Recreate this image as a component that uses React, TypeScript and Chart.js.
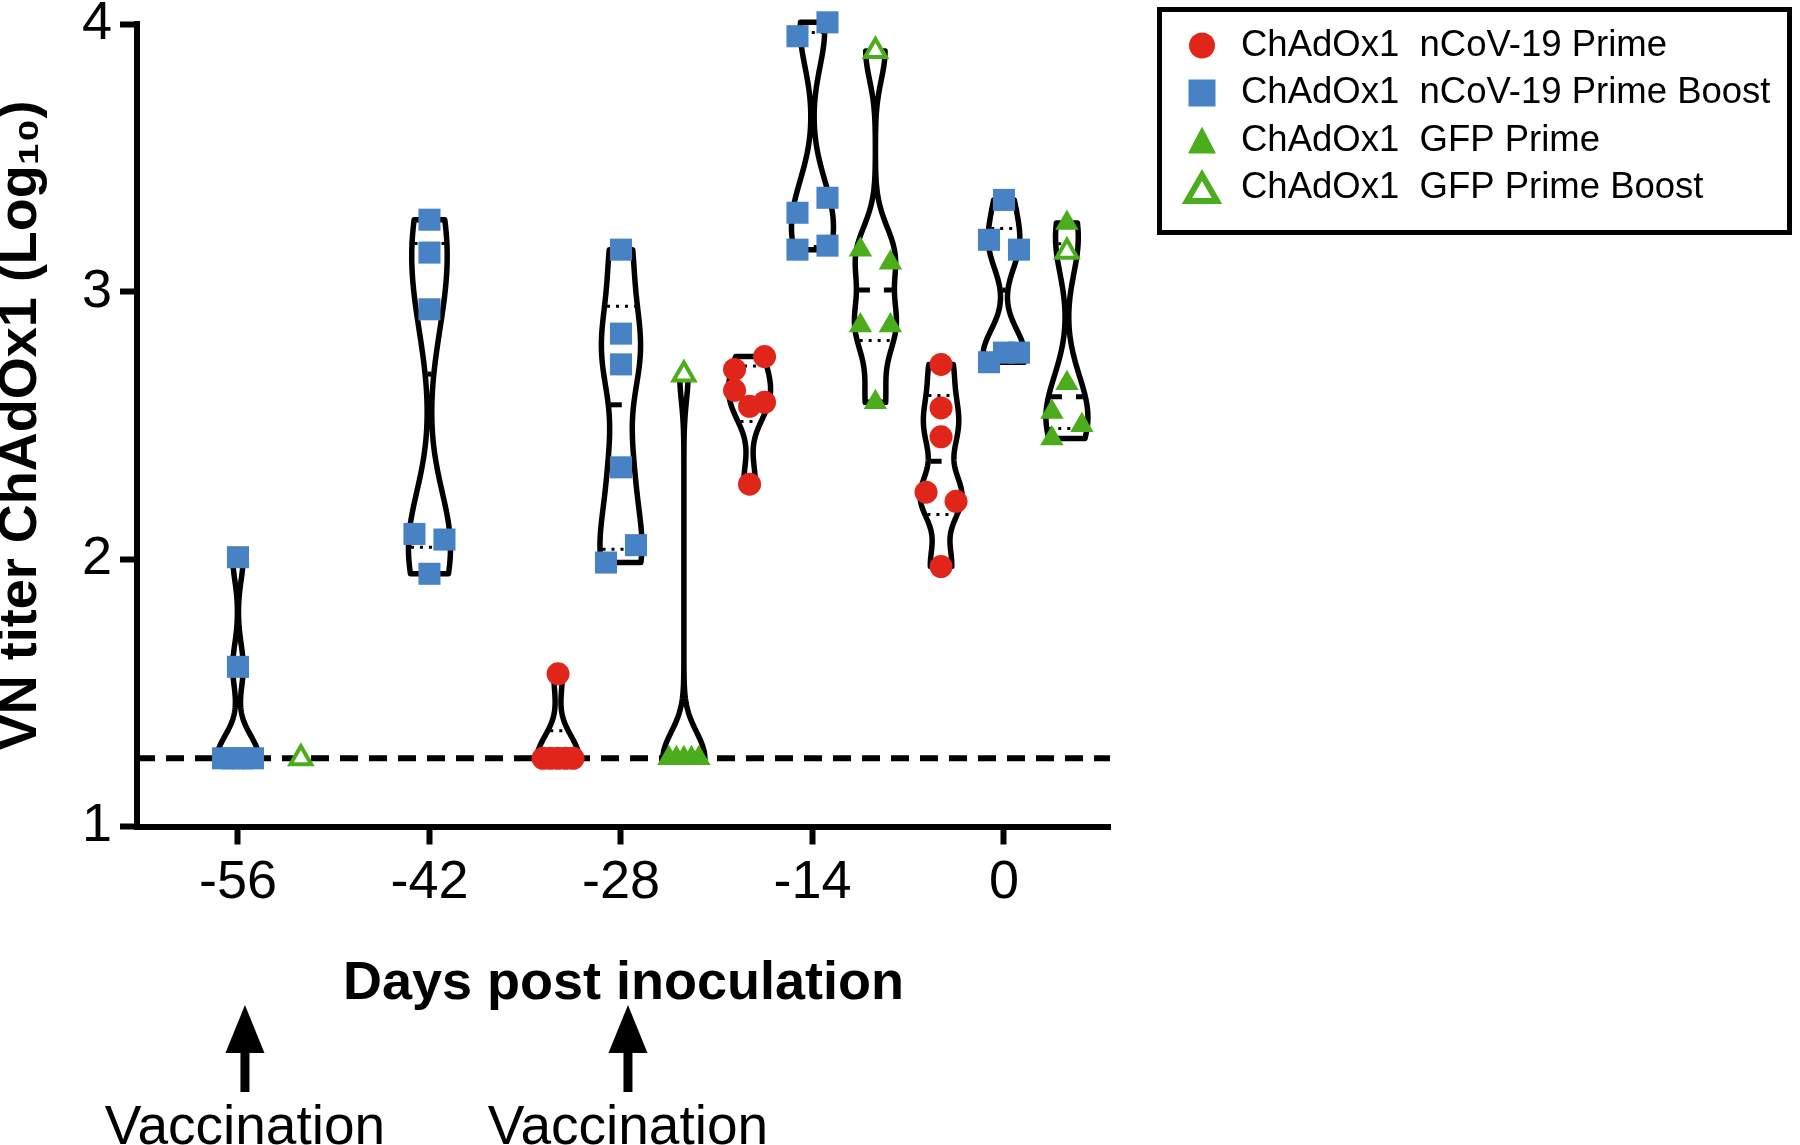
import React, { useEffect, useRef } from 'react';
import { Chart, registerables } from 'chart.js';

Chart.register(...registerables);

// ---------------- data (log10 VN titres) ----------------
const tickDays = [-56, -42, -28, -14, 0];
const vaccinationDays = [-56, -28];
const lodLog = 1.255;

const nCoVPrimeDays = [-28, -14, 0];
const nCoVPrime = [
  [1.255, 1.255, 1.255, 1.255, 1.255, 1.571],
  [2.631, 2.571, 2.586, 2.709, 2.757, 2.28],
  [2.728, 2.565, 2.457, 2.25, 2.216, 1.972],
];

const nCoVPrimeBoostDays = [-56, -42, -28, -14, 0];
const nCoVPrimeBoost = [
  [2.007, 1.597, 1.255, 1.255, 1.255, 1.255],
  [3.269, 3.146, 2.934, 2.094, 2.073, 1.945],
  [3.157, 2.843, 2.728, 2.343, 1.987, 2.052],
  [3.955, 4.007, 3.295, 3.351, 3.157, 3.172],
  [3.343, 3.194, 3.157, 2.736, 2.772, 2.772],
];

const gfpPrimeDays = [-28, -14, 0];
const gfpPrime = [
  [1.255, 1.255, 1.255, 1.255, 1.255],
  [3.157, 3.108, 2.873, 2.873, 2.586],
  [3.257, 2.657, 2.55, 2.5, 2.451],
];

const gfpPrimeBoostDays = [-56, -28, -14, 0];
const gfpPrimeBoost = [1.255, 2.69, 3.9, 3.149];

const seriesLabels = [
  'ChAdOx1  nCoV-19 Prime',
  'ChAdOx1  nCoV-19 Prime Boost',
  'ChAdOx1  GFP Prime',
  'ChAdOx1  GFP Prime Boost',
];

// ---------------- styling ----------------
const RED = '#e0261b';
const BLUE = '#4682c4';
const GREEN = '#4cad1c';
const FONT = "'Liberation Sans', Arial, Helvetica, sans-serif";
const X_MIN = -63.38;
const X_MAX = 7.75;
const PRIME_SHIFT = -4.6; // day offset of the Prime group within a time point
const GFP_SHIFT = 4.6; // day offset of the GFP groups within a time point
const VIOLIN_HALF = 21; // px
const SWARM_HALF = 15; // px
const SWARM_GAP = 20; // px

// ---------------- derived structures ----------------
type Pt = { x: number; y: number };
const groupPoints = (days: number[], vals: number[][], shift: number): Pt[] =>
  days.flatMap((d, i) => vals[i].map((v) => ({ x: d + shift, y: v })));

const primePts = groupPoints(nCoVPrimeDays, nCoVPrime, PRIME_SHIFT);
const boostPts = groupPoints(nCoVPrimeBoostDays, nCoVPrimeBoost, 0);
const gfpPts = groupPoints(gfpPrimeDays, gfpPrime, GFP_SHIFT);
const gfpBoostPts = gfpPrimeBoostDays.map((d, i) => ({ x: d + GFP_SHIFT, y: gfpPrimeBoost[i] }));

type Violin = { x: number; values: number[] };
const gfpAllDays = Array.from(new Set([...gfpPrimeDays, ...gfpPrimeBoostDays]));
const violins: Violin[] = [
  ...nCoVPrimeDays.map((d, i) => ({ x: d + PRIME_SHIFT, values: nCoVPrime[i] })),
  ...nCoVPrimeBoostDays.map((d, i) => ({ x: d, values: nCoVPrimeBoost[i] })),
  ...gfpAllDays.map((d) => {
    const a = gfpPrimeDays.indexOf(d);
    const b = gfpPrimeBoostDays.indexOf(d);
    return {
      x: d + GFP_SHIFT,
      values: [...(a >= 0 ? gfpPrime[a] : []), ...(b >= 0 ? [gfpPrimeBoost[b]] : [])],
    };
  }),
];

function bandwidth(vals: number[]) {
  const n = vals.length;
  const mean = vals.reduce((a, b) => a + b, 0) / n;
  const sd = Math.sqrt(vals.reduce((a, b) => a + (b - mean) ** 2, 0) / (n - 1));
  const s = [...vals].sort((a, b) => a - b);
  const q7 = (p: number) => {
    const h = (n - 1) * p;
    const lo = Math.floor(h);
    return s[lo] + (h - lo) * (s[Math.min(lo + 1, n - 1)] - s[lo]);
  };
  const iqr = q7(0.75) - q7(0.25);
  const bw = 0.477 * ((sd + iqr / 1.34) / 2) * Math.pow(n, -0.2);
  return Math.min(0.2, Math.max(0.085, bw));
}

function rawQuantile(vals: number[], p: number) {
  const raw = vals.map((v) => Math.pow(10, v)).sort((a, b) => a - b);
  const n = raw.length;
  const h = (n + 1) * p;
  if (h <= 1) return Math.log10(raw[0]);
  if (h >= n) return Math.log10(raw[n - 1]);
  const lo = Math.floor(h);
  return Math.log10(raw[lo - 1] + (h - lo) * (raw[lo] - raw[lo - 1]));
}

// ---------------- plugins ----------------
const violinPlugin = {
  id: 'violins',
  beforeDatasetsDraw(chart: any) {
    const { ctx } = chart;
    const xs = chart.scales.x;
    const ys = chart.scales.y;
    ctx.save();
    ctx.strokeStyle = '#000';
    for (const v of violins) {
      if (new Set(v.values).size < 2) continue;
      const bw = bandwidth(v.values);
      const kde = (t: number) =>
        v.values.reduce((acc, val) => acc + Math.exp(-0.5 * ((t - val) / bw) ** 2), 0);
      const lo = Math.min(...v.values);
      const hi = Math.max(...v.values);
      const N = 160;
      const tv: number[] = [];
      const dv: number[] = [];
      for (let k = 0; k <= N; k++) {
        const t = lo + ((hi - lo) * k) / N;
        tv.push(t);
        dv.push(kde(t));
      }
      const maxD = Math.max(...dv);
      const cx = xs.getPixelForValue(v.x);
      const half = (d: number) => (VIOLIN_HALF * d) / maxD;
      ctx.beginPath();
      for (let k = 0; k <= N; k++) {
        const py = ys.getPixelForValue(tv[k]);
        if (k === 0) ctx.moveTo(cx - half(dv[k]), py);
        else ctx.lineTo(cx - half(dv[k]), py);
      }
      for (let k = N; k >= 0; k--) {
        ctx.lineTo(cx + half(dv[k]), ys.getPixelForValue(tv[k]));
      }
      ctx.closePath();
      ctx.lineWidth = 5.5;
      ctx.lineJoin = 'round';
      ctx.setLineDash([]);
      ctx.stroke();

      const level = (val: number, dash: number[], lw: number) => {
        const w = half(kde(val)) - 2.5;
        if (w <= 1) return;
        const py = ys.getPixelForValue(val);
        ctx.setLineDash(dash);
        ctx.lineWidth = lw;
        ctx.lineCap = 'butt';
        ctx.beginPath();
        ctx.moveTo(cx - w, py);
        ctx.lineTo(cx + w, py);
        ctx.stroke();
      };
      level(rawQuantile(v.values, 0.5), [11, 14], 5);
      level(rawQuantile(v.values, 0.25), [3, 6], 3);
      level(rawQuantile(v.values, 0.75), [3, 6], 3);
      ctx.setLineDash([]);
    }
    ctx.restore();
  },
};

const swarmPlugin = {
  id: 'swarm',
  afterDatasetsUpdate(chart: any) {
    const groups = new Map<string, { el: any; py: number; seq: number }[]>();
    chart.data.datasets.forEach((ds: any, di: number) => {
      if (ds.type === 'line') return;
      const meta = chart.getDatasetMeta(di);
      meta.data.forEach((el: any, i: number) => {
        const key = Number(ds.data[i].x).toFixed(3);
        if (!groups.has(key)) groups.set(key, []);
        const arr = groups.get(key)!;
        arr.push({ el, py: el.y, seq: arr.length });
      });
    });
    groups.forEach((items) => {
      const sorted = [...items].sort((a, b) => a.py - b.py);
      const clusters: typeof items[] = [];
      let cur: typeof items = [];
      sorted.forEach((it) => {
        if (cur.length && it.py - cur[cur.length - 1].py >= SWARM_GAP) {
          clusters.push(cur);
          cur = [];
        }
        cur.push(it);
      });
      if (cur.length) clusters.push(cur);
      clusters.forEach((c) => {
        c.sort((a, b) => a.seq - b.seq);
        const k = c.length;
        const S = SWARM_HALF;
        let offs: number[];
        if (k === 1) offs = [0];
        else if (k === 2) offs = [-S, S];
        else if (k === 3) offs = Math.abs(c[0].py - c[2].py) < SWARM_GAP ? [-S, 0, S] : [-S, S, -S];
        else offs = c.map((_, i) => -S + (2 * S * i) / (k - 1));
        c.forEach((it, i) => {
          it.el.x += offs[i];
        });
      });
    });
  },
};

const legendSpecs = [
  { style: 'circle', fill: RED, stroke: RED },
  { style: 'rect', fill: BLUE, stroke: BLUE },
  { style: 'triangle', fill: GREEN, stroke: GREEN },
  { style: 'triangleOpen', fill: '#fff', stroke: GREEN },
];

const legendPlugin = {
  id: 'boxLegend',
  afterDraw(chart: any) {
    const { ctx } = chart;
    ctx.save();
    ctx.setLineDash([]);
    ctx.lineWidth = 5;
    ctx.strokeStyle = '#000';
    ctx.strokeRect(1159.5, 9.5, 630, 223);
    seriesLabels.forEach((label, i) => {
      const cy = 45.5 + i * 47.5;
      const cx = 1202;
      const sp = legendSpecs[i];
      ctx.fillStyle = sp.fill;
      ctx.beginPath();
      if (sp.style === 'circle') {
        ctx.arc(cx, cy, 13, 0, Math.PI * 2);
        ctx.fill();
      } else if (sp.style === 'rect') {
        ctx.fillRect(cx - 13.5, cy - 13.5, 27, 27);
      } else if (sp.style === 'triangle') {
        ctx.moveTo(cx, cy - 14);
        ctx.lineTo(cx + 14, cy + 13);
        ctx.lineTo(cx - 14, cy + 13);
        ctx.closePath();
        ctx.fill();
      } else {
        ctx.moveTo(cx, cy - 13);
        ctx.lineTo(cx + 15, cy + 13);
        ctx.lineTo(cx - 15, cy + 13);
        ctx.closePath();
        ctx.fill();
        ctx.lineWidth = 6;
        ctx.lineJoin = 'miter';
        ctx.strokeStyle = sp.stroke;
        ctx.stroke();
      }
      ctx.fillStyle = '#000';
      ctx.font = `36.5px ${FONT}`;
      ctx.textAlign = 'left';
      ctx.textBaseline = 'middle';
      ctx.fillText(label, 1241, cy);
    });
    ctx.restore();
  },
};

const arrowPlugin = {
  id: 'vaccArrows',
  afterDraw(chart: any) {
    const { ctx } = chart;
    const xs = chart.scales.x;
    ctx.save();
    ctx.fillStyle = '#000';
    vaccinationDays.forEach((d) => {
      const px = xs.getPixelForValue(d) + 7;
      ctx.beginPath();
      ctx.moveTo(px, 1005);
      ctx.lineTo(px + 19.5, 1053);
      ctx.lineTo(px + 4.5, 1053);
      ctx.lineTo(px + 4.5, 1092);
      ctx.lineTo(px - 4.5, 1092);
      ctx.lineTo(px - 4.5, 1053);
      ctx.lineTo(px - 19.5, 1053);
      ctx.closePath();
      ctx.fill();
      ctx.font = `55px ${FONT}`;
      ctx.textAlign = 'center';
      ctx.textBaseline = 'alphabetic';
      ctx.fillText('Vaccination', px, 1144);
    });
    ctx.restore();
  },
};

export default function App() {
  const ref = useRef<HTMLCanvasElement>(null);
  useEffect(() => {
    const pointBase = { showLine: false, clip: false as any, pointHoverRadius: 0 };
    const chart = new Chart(ref.current as HTMLCanvasElement, {
      type: 'scatter',
      data: {
        datasets: [
          {
            ...pointBase,
            label: seriesLabels[0],
            data: primePts,
            pointStyle: 'circle',
            pointRadius: 11.5,
            pointBackgroundColor: RED,
            pointBorderColor: RED,
            pointBorderWidth: 0,
          },
          {
            ...pointBase,
            label: seriesLabels[1],
            data: boostPts,
            pointStyle: 'rect',
            pointRadius: 15.6,
            pointBackgroundColor: BLUE,
            pointBorderColor: BLUE,
            pointBorderWidth: 0,
          },
          {
            ...pointBase,
            label: seriesLabels[2],
            data: gfpPts,
            pointStyle: 'triangle',
            pointRadius: 13.5,
            pointBackgroundColor: GREEN,
            pointBorderColor: GREEN,
            pointBorderWidth: 0,
          },
          {
            ...pointBase,
            label: seriesLabels[3],
            data: gfpBoostPts,
            pointStyle: 'triangle',
            pointRadius: 12,
            pointBackgroundColor: '#ffffff',
            pointBorderColor: GREEN,
            pointBorderWidth: 4,
          },
          {
            type: 'line',
            label: 'LOD',
            data: [
              { x: X_MIN, y: lodLog },
              { x: X_MAX, y: lodLog },
            ],
            borderColor: '#000',
            borderWidth: 6,
            borderDash: [18, 11],
            pointRadius: 0,
            fill: false,
            tension: 0,
          } as any,
        ],
      },
      options: {
        responsive: false,
        animation: false,
        devicePixelRatio: 1,
        events: [],
        layout: { padding: { left: 0, top: 19.5, right: 690, bottom: 118.5 } },
        plugins: {
          legend: { display: false },
          tooltip: { enabled: false },
        },
        scales: {
          x: {
            type: 'linear',
            min: X_MIN,
            max: X_MAX,
            afterBuildTicks: (s: any) => {
              s.ticks = tickDays.map((v) => ({ value: v }));
            },
            afterFit: (s: any) => {
              s.height = 200;
            },
            ticks: {
              color: '#000',
              font: { family: FONT, size: 54 },
              padding: 6,
              maxRotation: 0,
              autoSkip: false,
              callback: (v: any) => String(v),
            },
            grid: {
              display: true,
              drawOnChartArea: false,
              drawTicks: true,
              tickLength: 18,
              tickWidth: 6,
              tickColor: '#000',
            },
            border: { display: true, color: '#000', width: 6 },
            title: {
              display: true,
              text: 'Days post inoculation',
              color: '#000',
              font: { family: FONT, size: 54, weight: 'bold' },
              padding: { top: 0, bottom: 10 },
            },
          },
          y: {
            type: 'linear',
            min: 1,
            max: 4,
            afterFit: (s: any) => {
              s.width = 137;
            },
            ticks: {
              stepSize: 1,
              color: '#000',
              font: { family: FONT, size: 54, lineHeight: 0.6 },
              padding: 8,
            },
            grid: {
              display: true,
              drawOnChartArea: false,
              drawTicks: true,
              tickLength: 17,
              tickWidth: 6,
              tickColor: '#000',
            },
            border: { display: true, color: '#000', width: 6 },
            title: {
              display: true,
              text: 'VN titer ChAdOx1 (Log\u2081\u2080)',
              color: '#000',
              font: { family: FONT, size: 54, weight: 'bold', lineHeight: 0.8 },
              padding: 0,
            },
          },
        },
      } as any,
      plugins: [swarmPlugin, violinPlugin, legendPlugin, arrowPlugin],
    });
    return () => chart.destroy();
  }, []);
  return (
    <div style={{ position: 'absolute', left: 0, top: 0, width: 1800, height: 1145, background: '#fff' }}>
      <canvas ref={ref} width={1800} height={1145} style={{ display: 'block', width: 1800, height: 1145 }} />
    </div>
  );
}
